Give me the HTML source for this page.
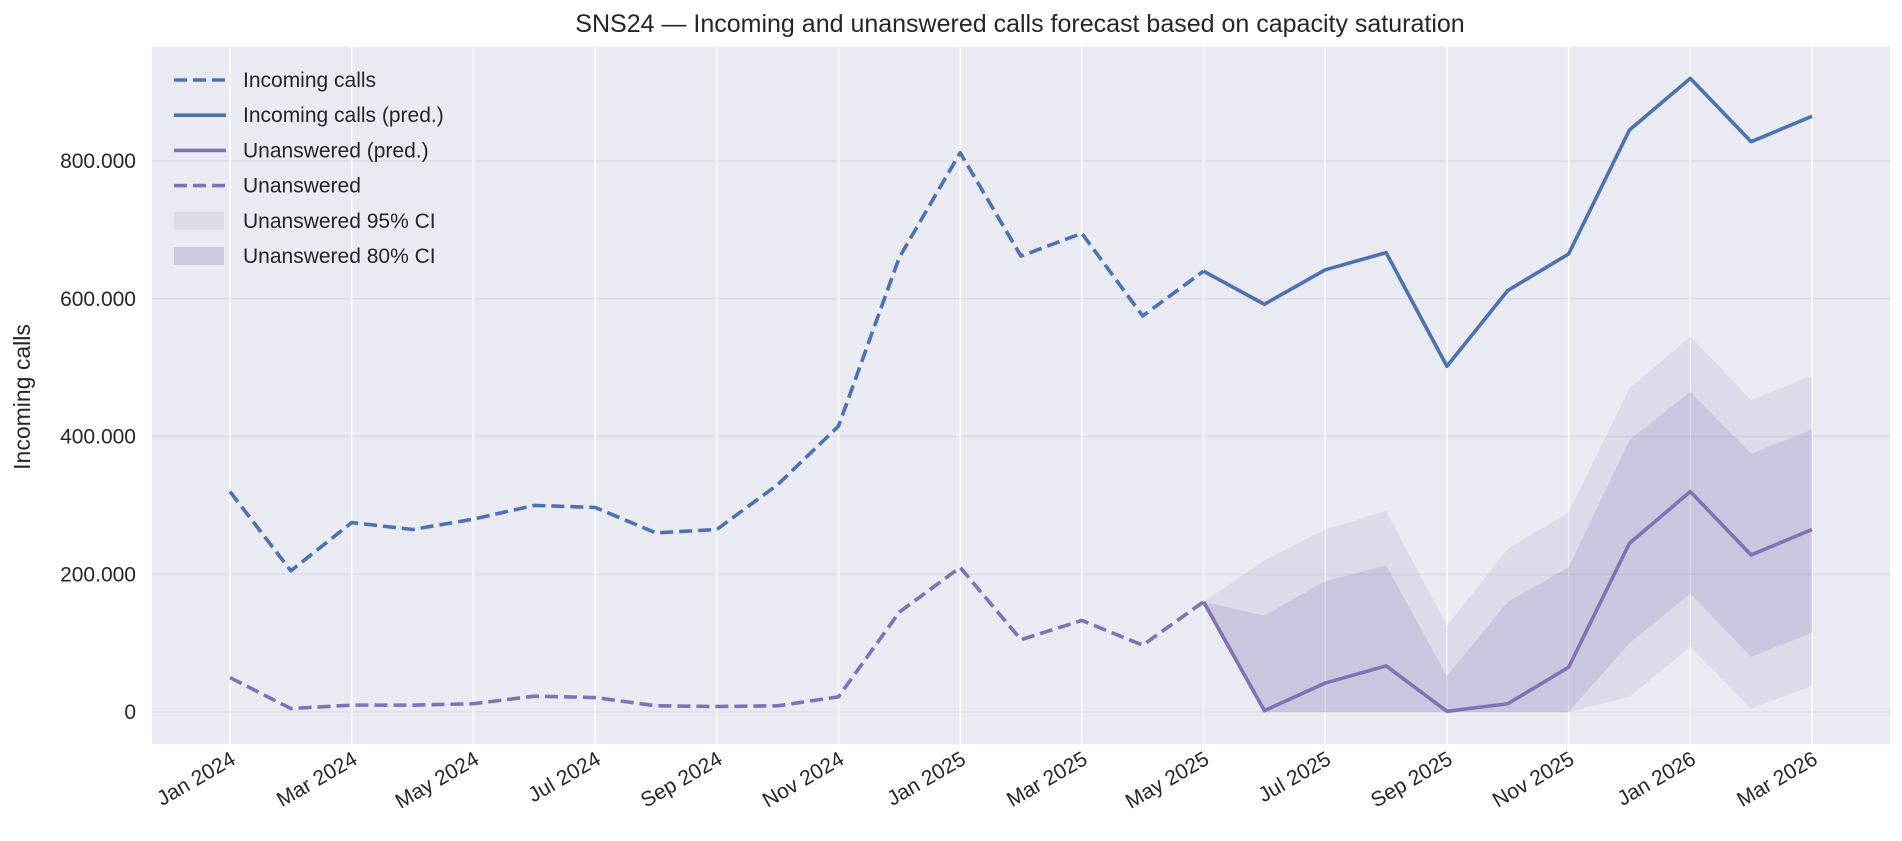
<!DOCTYPE html>
<html><head><meta charset="utf-8"><style>
html,body{margin:0;padding:0;background:#fff;}
svg{display:block;font-family:"Liberation Sans",sans-serif;}
</style></head><body>
<svg id="chart" width="1902" height="841"></svg>
<script>
const months=["2024-01","2024-02","2024-03","2024-04","2024-05","2024-06","2024-07","2024-08","2024-09","2024-10","2024-11","2024-12","2025-01","2025-02","2025-03","2025-04","2025-05","2025-06","2025-07","2025-08","2025-09","2025-10","2025-11","2025-12","2026-01","2026-02","2026-03"];
const incomingHist=[320,205,275,265,280,300,297,260,265,330,415,660,812,662,695,575,640];
const incomingPred=[640,592,642,667,502,612,665,845,920,828,865];
const unansHist=[50,5,10,10,12,23,21,9,8,9,22,145,210,105,133,97,160];
const unansPred=[160,2,42,67,1,12,65,245,320,228,265];
const ci80Upper=[160,140,190,213,52,160,210,395,465,375,410];
const ci80Lower=[160,0,0,0,0,0,0,100,172,80,115];
const ci95Upper=[160,220,265,292,125,237,290,470,545,453,488];
const ci95Lower=[160,0,0,0,0,0,0,22,95,5,38];
const yTicks=[0,200,400,600,800];
const yTickLabels=["0","200.000","400.000","600.000","800.000"];
const xTickIdx=[0,2,4,6,8,10,12,14,16,18,20,22,24,26];
const xTickLabels=["Jan 2024","Mar 2024","May 2024","Jul 2024","Sep 2024","Nov 2024","Jan 2025","Mar 2025","May 2025","Jul 2025","Sep 2025","Nov 2025","Jan 2026","Mar 2026"];

const NS="http://www.w3.org/2000/svg";
const svg=document.getElementById('chart');
const L=152,R=1890,T=47,B=744;
const x=i=>230+i*(1812-230)/26;
const y=v=>712-v*(712-161)/800;
const predStart=16;
function el(tag,attrs,parent){const e=document.createElementNS(NS,tag);for(const k in attrs)e.setAttribute(k,attrs[k]);(parent||svg).appendChild(e);return e;}

let bg=el('rect',{x:L,y:T,width:R-L,height:B-T,fill:'#eaeaf2'});



const grid=el('g',{stroke:'#fff','stroke-width':1.5});


yTicks.forEach(v=>el('line',{x1:L,x2:R,y1:y(v),y2:y(v),stroke:'#dcdce4'},grid));
xTickIdx.forEach(i=>el('line',{x1:x(i),x2:x(i),y1:T,y2:B},grid));

function band(up,lo,fill,op,name){
  let d='M'+up.map((v,k)=>x(predStart+k)+','+y(v)).join('L');
  for(let k=lo.length-1;k>=0;k--)d+='L'+x(predStart+k)+','+y(lo[k]);
  const p=el('path',{d:d+'Z',fill:fill,'fill-opacity':op});
  
  
}
band(ci95Upper,ci95Lower,'#8172b3',0.12,'unanswered-ci95-band');
band(ci80Upper,ci80Lower,'#8172b3',0.2,'unanswered-ci80-band');

function line(vals,start,color,dash,name){
  const p=el('path',{d:'M'+vals.map((v,k)=>x(start+k)+','+y(v)).join('L'),fill:'none',stroke:color,'stroke-width':3.6,'stroke-dasharray':dash||'none','stroke-linejoin':'round'});
  
  
}
line(incomingHist,0,'#4c72b0','13 6','incoming-calls-line');
line(incomingPred,predStart,'#4c72b0',null,'incoming-calls-pred-line');
line(unansHist,0,'#8172b3','13 6','unanswered-line');
line(unansPred,predStart,'#8172b3',null,'unanswered-pred-line');

yTicks.forEach((v,k)=>{const t=el('text',{x:136,y:y(v)+7,'text-anchor':'end','font-size':21,fill:'#262626'});t.textContent=yTickLabels[k];

});
xTickIdx.forEach((i,k)=>{const t=el('text',{x:0,y:0,'text-anchor':'end','font-size':21,fill:'#262626',transform:`translate(${x(i)+7},${763}) rotate(-30)`});t.textContent=xTickLabels[k];

});

let t=el('text',{x:1020,y:32,'text-anchor':'middle','font-size':25,fill:'#262626'});t.textContent='SNS24 — Incoming and unanswered calls forecast based on capacity saturation';


t=el('text',{x:0,y:0,'text-anchor':'middle','font-size':23,fill:'#262626',transform:'translate(30,397) rotate(-90)'});t.textContent='Incoming calls';



const legItems=[['Incoming calls','#4c72b0','dash'],['Incoming calls (pred.)','#4c72b0','solid'],['Unanswered (pred.)','#8172b3','solid'],['Unanswered','#8172b3','dash'],['Unanswered 95% CI','#8172b3',0.12],['Unanswered 80% CI','#8172b3',0.28]];
const leg=el('g',{});


legItems.forEach((it,k)=>{
  const yy=80+k*35.2;
  const g=el('g',{},leg);
  
  
  if(typeof it[2]==='number')el('rect',{x:174,y:yy-9,width:50,height:18,fill:it[1],'fill-opacity':it[2]},g);
  else el('line',{x1:174,x2:226,y1:yy,y2:yy,stroke:it[1],'stroke-width':3.6,'stroke-dasharray':it[2]==='dash'?'13 6':'none'},g);
  const tx=el('text',{x:243,y:yy+7,'font-size':21,fill:'#262626'},g);tx.textContent=it[0];
});
</script>
</body></html>
